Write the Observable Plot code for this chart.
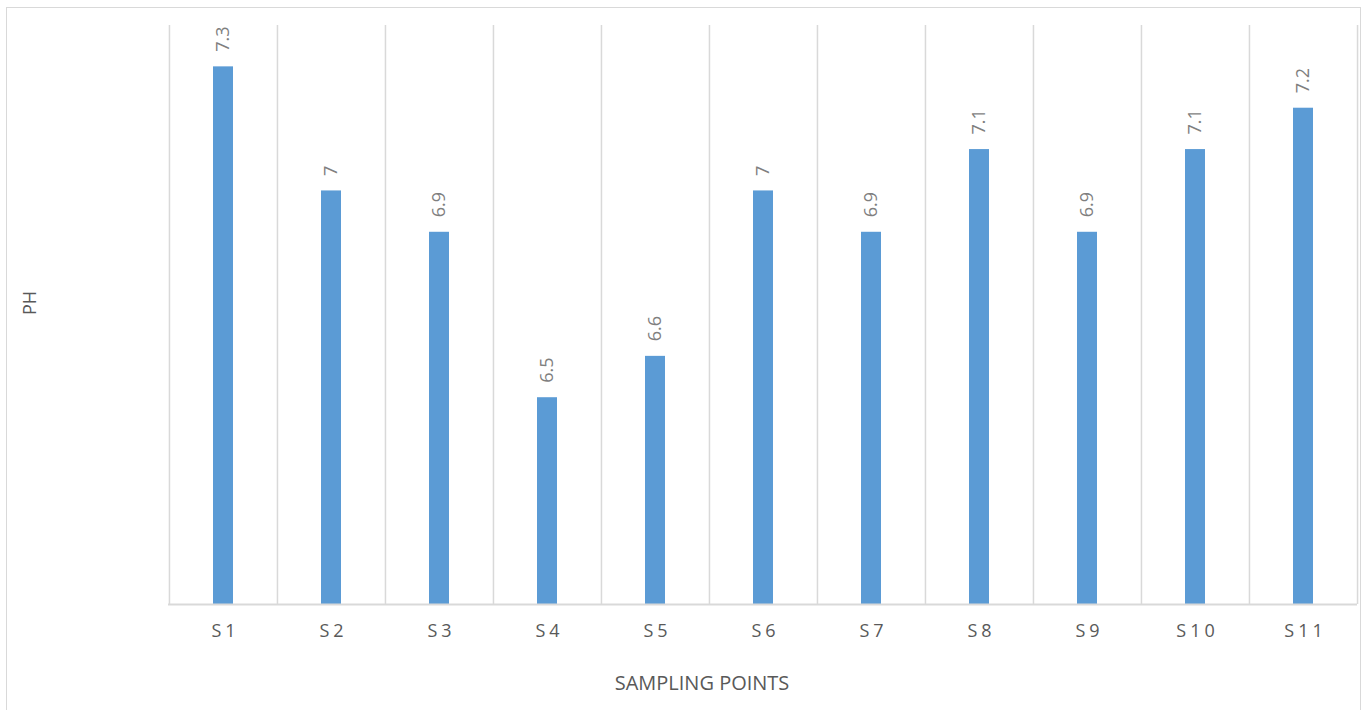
<!DOCTYPE html>
<html>
<head>
<meta charset="utf-8">
<script src="https://cdn.jsdelivr.net/npm/d3@7"></script>
<script src="https://cdn.jsdelivr.net/npm/@observablehq/plot@0.6"></script>
<style>
  html, body { margin: 0; padding: 0; background: #fff; overflow: hidden; }
  #wrap { position: relative; width: 1367px; height: 710px; overflow: hidden; }
  #border { position: absolute; left: 6px; top: 7px; width: 1353px; height: 720px; border: 1px solid #d9d9d9; pointer-events: none; }
  #chart { position: absolute; left: 0; top: 0; }
  .xticks text { letter-spacing: 4px; }
</style>
</head>
<body>
<div id="wrap"><div id="chart"></div><div id="border"></div></div>
<script>
const categories = ["S1", "S2", "S3", "S4", "S5", "S6", "S7", "S8", "S9", "S10", "S11"];
const phValues = [7.3, 7, 6.9, 6.5, 6.6, 7, 6.9, 7.1, 6.9, 7.1, 7.2];
const valueLabels = ["7.3", "7", "6.9", "6.5", "6.6", "7", "6.9", "7.1", "6.9", "7.1", "7.2"];
const yDomain = [6, 7.4];
const xTitle = "SAMPLING POINTS";
const yTitle = "PH";

const data = categories.map((c, i) => ({cat: c, ph: phValues[i], label: valueLabels[i]}));

const W = 1367, H = 710;
const mL = 168, mR = 10, mT = 25, mB = 106;
const step = (W - mL - mR) / categories.length;

const chart = Plot.plot({
  width: W,
  height: H,
  marginLeft: mL,
  marginRight: mR,
  marginTop: mT,
  marginBottom: mB,
  style: {fontFamily: "'Open Sans', sans-serif", background: "transparent"},
  x: {domain: categories, paddingInner: 0.815, paddingOuter: 0.4075, label: null},
  y: {domain: yDomain, axis: null},
  marks: [
    Plot.ruleX(categories, {x: d => d, dx: -step / 2, y1: yDomain[0], y2: yDomain[1], stroke: "#d9d9d9", strokeWidth: 1.5}),
    Plot.ruleX(categories.slice(-1), {x: d => d, dx: step / 2, y1: yDomain[0], y2: yDomain[1], stroke: "#d9d9d9", strokeWidth: 1.5}),
    Plot.barY(data, {x: "cat", y1: yDomain[0], y2: "ph", fill: "#5b9bd5"}),
    Plot.ruleY([yDomain[0]], {stroke: "#d9d9d9", strokeWidth: 2}),
    Plot.text(data, {x: "cat", y: "ph", text: "label", rotate: -90, textAnchor: "start", lineAnchor: "middle", dy: -15, fontSize: 18, fill: "#7f7f7f"}),
    Plot.axisX({tickSize: 0, tickPadding: 20, fontSize: 18, fill: "#595959", label: null, className: "xticks", dx: 2}),
    Plot.text([yTitle], {frameAnchor: "left", dx: -138, rotate: -90, fontSize: 18, fill: "#595959"}),
    Plot.text([xTitle], {frameAnchor: "bottom", dx: -61, dy: 85, fontSize: 20, fill: "#595959"})
  ]
});
document.getElementById("chart").appendChild(chart);
</script>
</body>
</html>
